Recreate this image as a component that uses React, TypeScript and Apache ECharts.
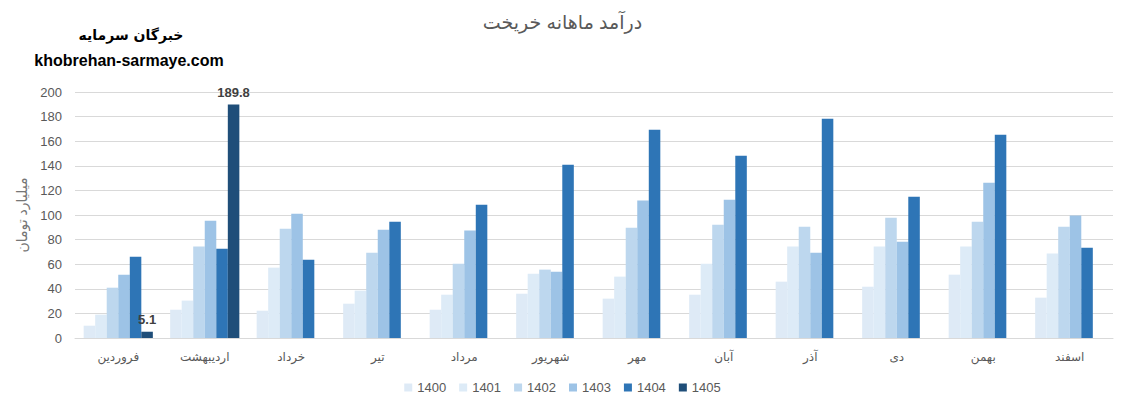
import React, { useEffect, useRef } from "react";
import * as echarts from "echarts";

const months = ["فروردین", "اردیبهشت", "خرداد", "تیر", "مرداد", "شهریور", "مهر", "آبان", "آذر", "دی", "بهمن", "اسفند"];
const years = ["1400", "1401", "1402", "1403", "1404", "1405"];
const v1400 = [10.0, 23.0, 22.2, 27.9, 23.0, 36.0, 32.0, 35.2, 45.8, 41.7, 51.5, 32.8];
const v1401 = [19.0, 30.4, 57.2, 38.5, 35.2, 52.3, 49.9, 60.4, 74.3, 74.3, 74.3, 68.6];
const v1402 = [40.9, 74.3, 88.9, 69.4, 60.4, 55.6, 89.7, 92.1, 90.5, 97.8, 94.6, 90.5];
const v1403 = [51.5, 95.4, 101.1, 88.1, 87.3, 53.9, 111.7, 112.5, 69.4, 78.3, 126.3, 99.5];
const v1404 = [66.1, 72.6, 63.7, 94.6, 108.4, 140.9, 169.4, 148.2, 178.3, 114.9, 165.3, 73.4];
const v1405 = [5.1, 189.8, null, null, null, null, null, null, null, null, null, null];
const yTicks = { min: 0, max: 200, interval: 20 };

const colors = ["#DEEAF6", "#DDEBF7", "#BDD7EE", "#9DC3E6", "#2E75B6", "#1F4E79"];
const FONT = "'Liberation Sans', 'DejaVu Sans', sans-serif";

export default function App() {
  const ref = useRef<HTMLDivElement>(null);
  useEffect(() => {
    document.body.style.margin = "0";
    const chart = echarts.init(ref.current!, null, { renderer: "svg" });
    const data = [v1400, v1401, v1402, v1403, v1404, v1405];
    chart.setOption({
      animation: false,
      textStyle: { fontFamily: FONT },
      title: {
        text: "درآمد ماهانه خریخت",
        left: "center",
        top: 8,
        textStyle: { fontSize: 19, fontWeight: "normal", color: "#595959", fontFamily: FONT },
      },
      graphic: [
        {
          type: "text",
          x: 131,
          y: 35,
          style: {
            text: "خبرگان سرمایه",
            font: "bold 14px 'DejaVu Sans', sans-serif",
            fill: "#000",
            textAlign: "center",
            textVerticalAlign: "middle",
          },
        },
        {
          type: "text",
          x: 129,
          y: 60,
          style: {
            text: "khobrehan-sarmaye.com",
            font: "bold 16px 'Liberation Sans', sans-serif",
            fill: "#000",
            textAlign: "center",
            textVerticalAlign: "middle",
          },
        },
      ],
      legend: {
        bottom: 8,
        left: "center",
        itemWidth: 8,
        itemHeight: 8,
        itemGap: 13,
        icon: "rect",
        data: years,
        textStyle: { fontSize: 13, color: "#595959", fontFamily: FONT },
      },
      grid: { left: 75, right: 12, top: 92, bottom: 69 },
      xAxis: {
        type: "category",
        data: months,
        axisLine: { lineStyle: { color: "#D9D9D9" } },
        axisTick: { show: false },
        axisLabel: { fontSize: 12, color: "#595959", margin: 13, fontFamily: FONT },
      },
      yAxis: {
        type: "value",
        min: yTicks.min,
        max: yTicks.max,
        interval: yTicks.interval,
        name: "میلیارد تومان",
        nameLocation: "middle",
        nameRotate: 90,
        nameGap: 46,
        nameTextStyle: { fontSize: 14, color: "#767676", fontFamily: FONT },
        axisLine: { show: false },
        axisTick: { show: false },
        axisLabel: { fontSize: 13, color: "#595959", margin: 13, fontFamily: FONT },
        splitLine: { lineStyle: { color: "#D9D9D9" } },
      },
      series: years.map((y, i) => ({
        name: y,
        type: "bar",
        data: data[i],
        barGap: "0%",
        barCategoryGap: "20%",
        itemStyle: { color: colors[i] },
        label:
          i === 5
            ? { show: true, position: "top", distance: 6, fontSize: 13, fontWeight: "bold", color: "#404040", fontFamily: FONT }
            : { show: false },
      })),
    });
    return () => chart.dispose();
  }, []);
  return <div ref={ref} style={{ width: 1125, height: 407 }} />;
}
